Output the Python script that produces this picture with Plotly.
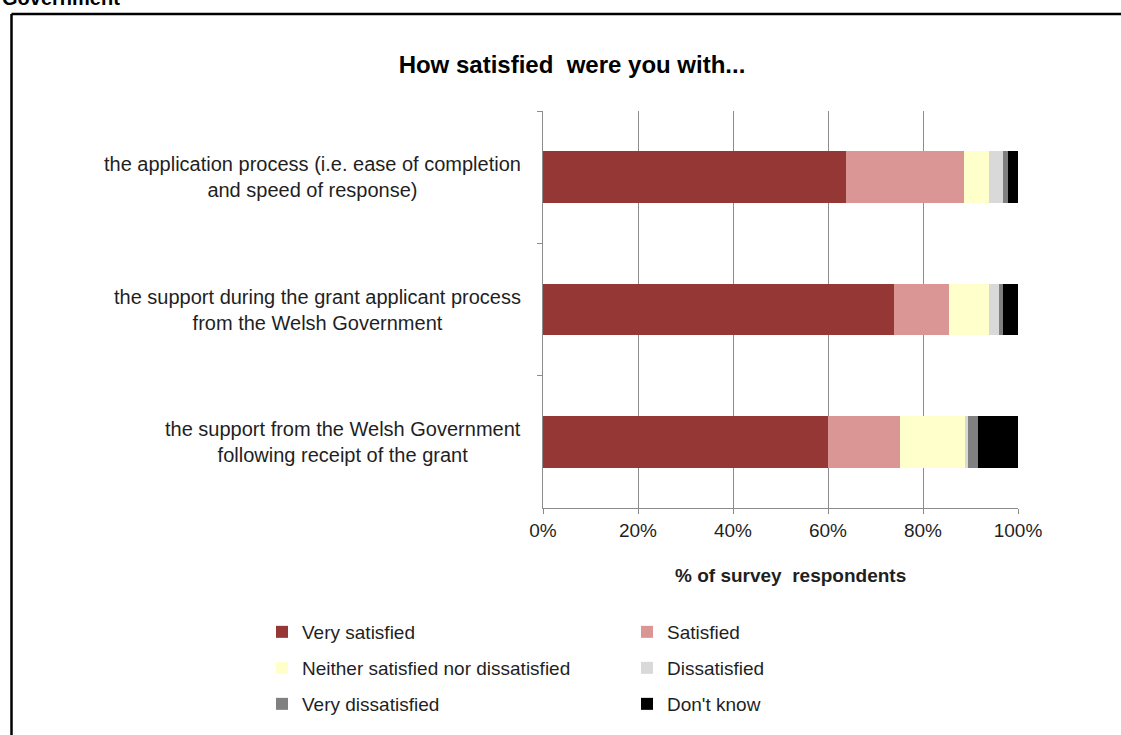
import plotly.graph_objects as go

# Survey questions (top to bottom)
questions = [
    "the application process (i.e. ease of completion<br>and speed of response)",
    "the support during the grant applicant process<br>from the Welsh Government",
    "the support from the Welsh Government<br>following receipt of the grant",
]
question_keys = ["Q1", "Q2", "Q3"]

# Response categories and their share of respondents (%), per question
responses = [
    "Very satisfied",
    "Satisfied",
    "Neither satisfied nor dissatisfied",
    "Dissatisfied",
    "Very dissatisfied",
    "Don't know",
]
very_satisfied = [63.8, 73.8, 60.1]
satisfied = [24.8, 11.7, 15.1]
neither = [5.3, 8.4, 13.6]
dissatisfied = [2.9, 2.0, 0.7]
very_dissatisfied = [1.1, 0.9, 2.0]
dont_know = [2.1, 3.2, 8.5]
series_values = [very_satisfied, satisfied, neither, dissatisfied,
                 very_dissatisfied, dont_know]

colors = ["#953735", "#D99694", "#FFFFCC", "#D9D9D9", "#808080", "#000000"]

x_ticks = [0, 20, 40, 60, 80, 100]
x_tick_labels = ["0%", "20%", "40%", "60%", "80%", "100%"]

title_text = "How satisfied  were you with..."
x_title_text = "% of survey  respondents"
header_text = "Government"

# Figure geometry (pixels)
W, H = 1121, 735
L, R, T, B = 543, 1121 - 1018, 111, 735 - 508
PW, PH = W - L - R, H - T - B


def px_x(px):
    return (px - L) / PW


def px_y(py):
    return (H - B - py) / PH


FONT = "Liberation Sans, Arial, sans-serif"
TEXT = "#1f1f1f"
GRID = "#8c8c8c"

fig = go.Figure()

# Legend layout: two columns, three rows
legend_cols = [262, 627]
legend_rows = [632, 668, 704]
legend_names = ["legend", "legend2", "legend3", "legend4", "legend5", "legend6"]

for i, (name, vals, col) in enumerate(zip(responses, series_values, colors)):
    fig.add_trace(go.Bar(
        y=question_keys,
        x=vals,
        name=name,
        orientation="h",
        marker=dict(color=col, line=dict(width=0)),
        legend=legend_names[i],
        hovertemplate="%{x:.1f}%<extra>" + name + "</extra>",
    ))

layout_legends = {}
for i, lname in enumerate(legend_names):
    layout_legends[lname] = dict(
        x=px_x(legend_cols[i % 2]),
        y=px_y(legend_rows[i // 2]),
        xanchor="left",
        yanchor="middle",
        xref="paper",
        yref="paper",
        orientation="h",
        bgcolor="rgba(0,0,0,0)",
        borderwidth=0,
        font=dict(family=FONT, size=19, color=TEXT),
        itemwidth=30,
    )

annotations = []
# Question labels, centred lines, right edge next to the axis
for key, label in zip(question_keys, questions):
    annotations.append(dict(
        x=px_x(523), xref="paper", y=key, yref="y",
        text=label, showarrow=False, xanchor="right", yanchor="middle",
        align="center", font=dict(family=FONT, size=20, color=TEXT),
    ))
# Axis title
annotations.append(dict(
    x=px_x(790), xref="paper", y=px_y(575), yref="paper",
    text="<b>" + x_title_text + "</b>", showarrow=False,
    xanchor="center", yanchor="middle",
    font=dict(family=FONT, size=19, color=TEXT),
))
# Section header above the frame
annotations.append(dict(
    x=px_x(0), xref="paper", y=px_y(-2), yref="paper",
    text="<b>" + header_text + "</b>", showarrow=False,
    xanchor="left", yanchor="middle",
    font=dict(family=FONT, size=20, color="#000000"),
))

# Outer frame (top and left edges)
shapes = [
    dict(type="line", xref="paper", yref="paper",
         x0=px_x(11.5), x1=px_x(W + 5), y0=px_y(14), y1=px_y(14),
         line=dict(color="#000000", width=2.5)),
    dict(type="line", xref="paper", yref="paper",
         x0=px_x(11.5), x1=px_x(11.5), y0=px_y(14), y1=px_y(H + 5),
         line=dict(color="#000000", width=2.5)),
]

fig.update_layout(
    width=W, height=H,
    margin=dict(l=L, r=R, t=T, b=B, autoexpand=False),
    paper_bgcolor="white",
    plot_bgcolor="white",
    barmode="stack",
    bargap=0.61,
    showlegend=True,
    font=dict(family=FONT, size=19, color=TEXT),
    title=dict(
        text="<b>" + title_text + "</b>",
        x=572 / W, xref="container", xanchor="center",
        y=1 - 65 / H, yref="container", yanchor="middle",
        font=dict(family=FONT, size=24, color="#000000"),
    ),
    xaxis=dict(
        range=[0, 100],
        tickvals=x_ticks,
        ticktext=x_tick_labels,
        showgrid=True, gridcolor=GRID, gridwidth=1,
        showline=True, linecolor=GRID, linewidth=1,
        ticks="outside", ticklen=5, tickcolor=GRID,
        zeroline=False,
        tickfont=dict(family=FONT, size=19, color=TEXT),
        fixedrange=True,
    ),
    yaxis=dict(
        type="category",
        categoryorder="array",
        categoryarray=question_keys,
        autorange="reversed",
        showticklabels=False,
        showline=True, linecolor=GRID, linewidth=1,
        ticks="outside", ticklen=5, tickcolor=GRID,
        tickson="boundaries",
        showgrid=False,
        fixedrange=True,
    ),
    annotations=annotations,
    shapes=shapes,
    **layout_legends,
)

fig.write_html("out.html")
